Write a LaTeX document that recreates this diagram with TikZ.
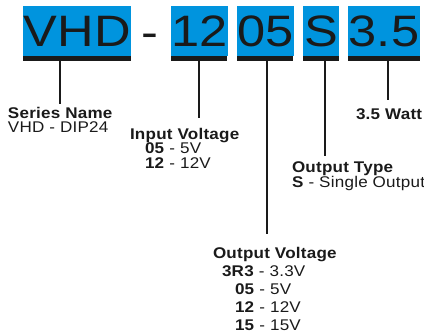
\documentclass[tikz,border=0pt]{standalone}
\usepackage{fontspec}
\setmainfont{Liberation Sans}
\newfontfamily\bigfont[FakeStretch=1.15,LetterSpace=1]{Liberation Sans}
\newfontfamily\lblfont[FakeStretch=1.1,LetterSpace=1.5]{Liberation Sans}
\definecolor{cblue}{RGB}{0,148,222}
\definecolor{ink}{RGB}{26,26,26}
\begin{document}
\begin{tikzpicture}[x=1pt,y=-1pt,
  codebox/.style={fill=cblue, inner sep=0pt, outer sep=0pt, anchor=north west, minimum height=50pt,
    font=\bigfont\fontsize{44}{44}\selectfont, text=ink},
  barbox/.style={fill=ink, inner sep=0pt, outer sep=0pt, anchor=north west, minimum height=4.6pt},
  tick/.style={draw=ink, line width=1.8pt},
  lbl/.style={anchor=base west, inner sep=0pt, outer sep=0pt, text=ink,
    font=\lblfont\fontsize{15.5}{18}\selectfont}]
\useasboundingbox (0,0) rectangle (424,335);

% code boxes
\node[codebox, minimum width=108pt] (bVHD) at (23,6) {VHD};
\node[anchor=base, inner sep=0pt, text=ink, font=\bigfont\fontsize{44}{44}\selectfont] (dash) at (150,47) {-};
\node[codebox, minimum width=56pt] (bIn) at (171,6) {12};
\node[codebox, minimum width=56pt] (bOut) at (237,6) {05};
\node[codebox, minimum width=36pt] (bType) at (303,6) {S};
\node[codebox, minimum width=72pt] (bW) at (348,6) {3.5};

% bars
\node[barbox, minimum width=108pt] (rVHD) at (23,56) {};
\node[barbox, minimum width=56pt] (rIn) at (171,56) {};
\node[barbox, minimum width=56pt] (rOut) at (237,56) {};
\node[barbox, minimum width=36pt] (rType) at (303,56) {};
\node[barbox, minimum width=72pt] (rW) at (348,56) {};

% tick ends
\coordinate (tVHD) at (60,104);
\coordinate (tIn) at (199,118);
\coordinate (tOut) at (267,234);
\coordinate (tType) at (325,156);
\coordinate (tW) at (388,100);

\draw[tick] (rVHD.south -| tVHD) -- (tVHD);
\draw[tick] (rIn.south -| tIn) -- (tIn);
\draw[tick] (rOut.south -| tOut) -- (tOut);
\draw[tick] (rType.south -| tType) -- (tType);
\draw[tick] (rW.south -| tW) -- (tW);

% labels
\node[lbl] (lSer) at (8,118) {\bfseries Series Name};
\node[lbl] (lSer2) at (8,132) {VHD - DIP24};

\node[lbl] (lIn) at (130,139) {\bfseries Input Voltage};
\node[lbl] (lIn1) at (145,153) {\textbf{05} - 5V};
\node[lbl] (lIn2) at (145,168) {\textbf{12} - 12V};

\node[lbl] (lType) at (292,172) {\bfseries Output Type};
\node[lbl] (lType1) at (292,187) {\textbf{S} - Single Output};

\node[lbl] (lW) at (356,119) {\bfseries 3.5 Watt};

\node[lbl] (lOut) at (213,258) {\bfseries Output Voltage};
\node[lbl] (lOut1) at (222,276) {\textbf{3R3} - 3.3V};
\node[lbl] (lOut2) at (235,294) {\textbf{05} - 5V};
\node[lbl] (lOut3) at (235,312) {\textbf{12} - 12V};
\node[lbl] (lOut4) at (235,330) {\textbf{15} - 15V};
\end{tikzpicture}
\end{document}
